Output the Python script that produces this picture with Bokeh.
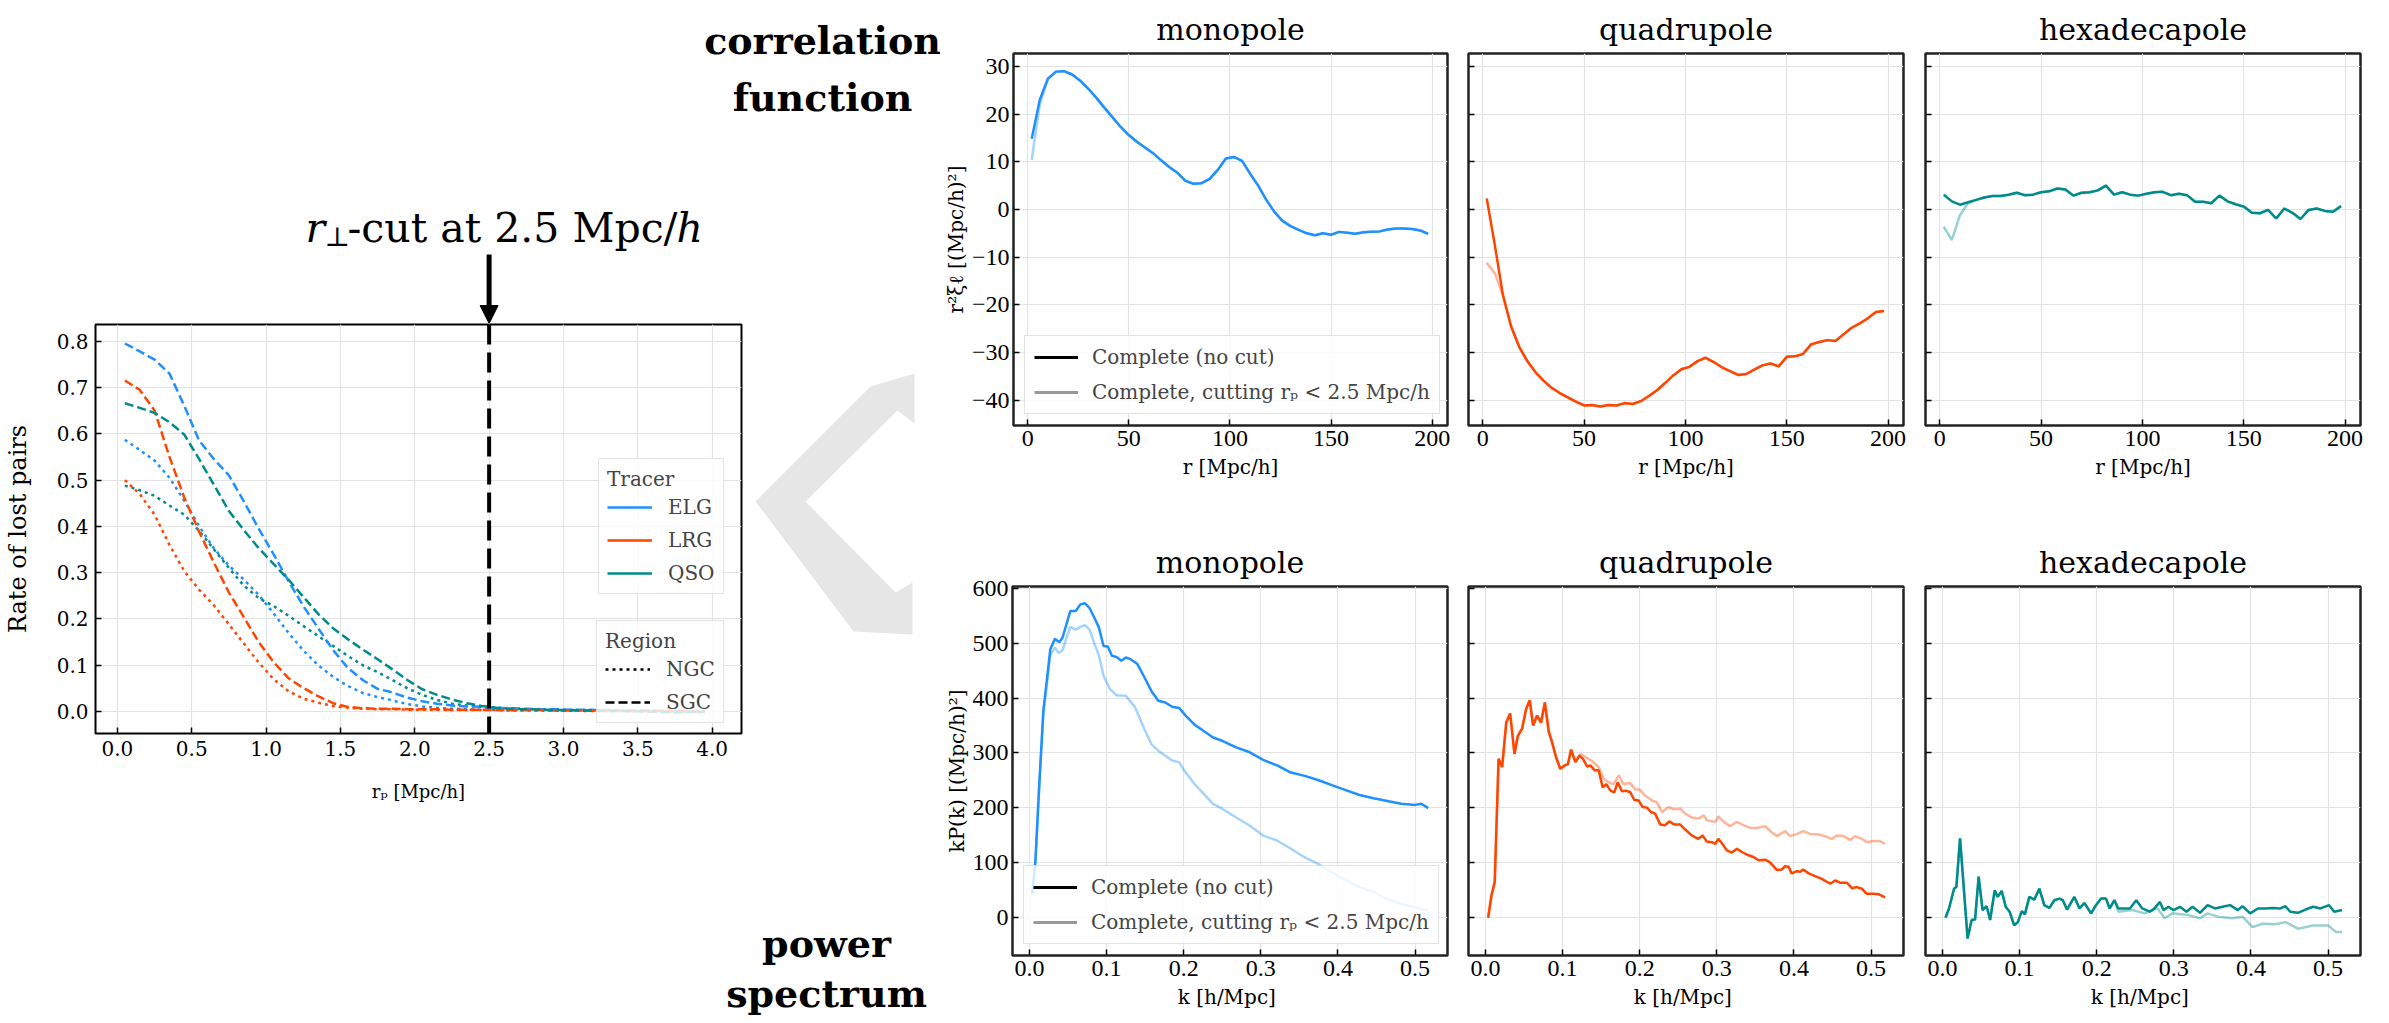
from bokeh.plotting import figure
from bokeh.models import (Range1d, Legend, LegendItem, Span, Arrow, NormalHead, Label,
                          PolyAnnotation, FixedTicker, PrintfTickFormatter)
from bokeh.layouts import row, column
from bokeh.embed import file_html
from bokeh.resources import INLINE

# ---------------- data: rate of lost pairs ----------------
rp = [0.05, 0.15, 0.25, 0.35, 0.45, 0.55, 0.65, 0.75, 0.85, 0.95,
      1.05, 1.15, 1.25, 1.35, 1.45, 1.55, 1.65, 1.75, 1.85, 1.95,
      2.05, 2.15, 2.25, 2.35, 2.45, 2.55, 2.65, 2.75, 2.85, 2.95,
      3.05, 3.15, 3.25, 3.35, 3.45, 3.55, 3.65, 3.75, 3.85, 3.95]
elg_ngc = [0.587, 0.565, 0.542, 0.505, 0.455, 0.400, 0.352, 0.315, 0.285, 0.252,
           0.212, 0.170, 0.132, 0.100, 0.075, 0.055, 0.040, 0.031, 0.024, 0.016,
           0.011, 0.008, 0.006, 0.005, 0.004, 0.004, 0.003, 0.003, 0.003, 0.002,
           0.002, 0.002, 0.002, 0.001, 0.001, 0.001, 0.001, 0.001, 0.000, 0.000]
elg_sgc = [0.795, 0.778, 0.760, 0.730, 0.660, 0.585, 0.545, 0.510, 0.454, 0.395,
           0.340, 0.282, 0.228, 0.180, 0.133, 0.094, 0.068, 0.049, 0.041, 0.030,
           0.022, 0.017, 0.013, 0.011, 0.010, 0.008, 0.007, 0.006, 0.005, 0.005,
           0.004, 0.004, 0.003, 0.003, 0.002, 0.002, 0.001, 0.000, -0.001, -0.002]
lrg_ngc = [0.500, 0.470, 0.425, 0.360, 0.303, 0.263, 0.229, 0.188, 0.147, 0.106,
           0.070, 0.044, 0.028, 0.019, 0.012, 0.008, 0.006, 0.005, 0.005, 0.004,
           0.004, 0.004, 0.003, 0.003, 0.003, 0.003, 0.002, 0.002, 0.002, 0.002,
           0.002, 0.001, 0.001, 0.001, 0.001, 0.001, 0.001, 0.001, 0.000, 0.000]
lrg_sgc = [0.715, 0.695, 0.650, 0.550, 0.462, 0.388, 0.321, 0.257, 0.204, 0.150,
           0.107, 0.072, 0.051, 0.033, 0.018, 0.010, 0.007, 0.006, 0.006, 0.005,
           0.005, 0.005, 0.004, 0.004, 0.004, 0.003, 0.003, 0.003, 0.003, 0.002,
           0.002, 0.002, 0.002, 0.002, 0.001, 0.001, 0.001, 0.001, 0.001, 0.001]
qso_ngc = [0.488, 0.478, 0.466, 0.445, 0.425, 0.390, 0.350, 0.310, 0.272, 0.245,
           0.228, 0.207, 0.185, 0.163, 0.142, 0.120, 0.100, 0.085, 0.068, 0.050,
           0.036, 0.025, 0.017, 0.013, 0.010, 0.007, 0.005, 0.004, 0.003, 0.003,
           0.002, 0.002, 0.002, 0.001, 0.001, 0.001, 0.001, 0.001, 0.000, 0.000]
qso_sgc = [0.666, 0.656, 0.645, 0.625, 0.598, 0.545, 0.489, 0.433, 0.392, 0.353,
           0.319, 0.285, 0.248, 0.211, 0.180, 0.156, 0.134, 0.113, 0.091, 0.068,
           0.048, 0.036, 0.026, 0.018, 0.012, 0.008, 0.006, 0.005, 0.004, 0.003,
           0.003, 0.002, 0.002, 0.001, 0.001, 0.000, -0.001, -0.002, -0.001, 0.000]
tracers = ["ELG", "LRG", "QSO"]
regions = ["NGC", "SGC"]
xt_left = [0.0, 0.5, 1.0, 1.5, 2.0, 2.5, 3.0, 3.5, 4.0]
yt_left = [0.0, 0.1, 0.2, 0.3, 0.4, 0.5, 0.6, 0.7, 0.8]
rp_cut = 2.5

# ---------------- data: correlation function multipoles ----------------
r_xi = [2, 6, 10, 14, 18, 22, 26, 30, 34, 38, 42, 46, 50, 54, 58, 62, 66, 70, 74, 78,
        82, 86, 90, 94, 98, 102, 106, 110, 114, 118, 122, 126, 130, 134, 138, 142, 146,
        150, 154, 158, 162, 166, 170, 174, 178, 182, 186, 190, 194, 198]
xi0 = [14.8, 23.0, 27.4, 28.9, 29.0, 28.3, 27.0, 25.3, 23.4, 21.3, 19.3, 17.3, 15.6,
       14.2, 13.0, 11.8, 10.3, 8.9, 7.7, 6.0, 5.4, 5.5, 6.4, 8.3, 10.7, 11.0, 10.2, 7.5,
       5.0, 2.0, -0.5, -2.4, -3.5, -4.3, -5.0, -5.4, -5.0, -5.3, -4.7, -4.9, -5.1, -4.8,
       -4.7, -4.6, -4.2, -4.0, -4.0, -4.1, -4.4, -5.1]
xi0_cut_head = [10.4, 22.0]
xi2 = [2.3, -7.5, -18.0, -24.5, -28.8, -31.8, -34.1, -35.9, -37.4, -38.5, -39.4, -40.3,
       -41.1, -41.0, -41.3, -41.0, -41.1, -40.6, -40.8, -40.2, -39.1, -37.9, -36.4, -34.8,
       -33.5, -33.0, -31.8, -31.1, -32.0, -33.1, -33.9, -34.7, -34.5, -33.6, -32.7, -32.3,
       -32.9, -30.9, -30.8, -30.3, -28.3, -27.8, -27.4, -27.6, -26.2, -24.8, -23.9, -22.8,
       -21.5, -21.3]
xi2_cut_head = [-11.2, -13.4]
xi4 = [3.1, 1.7, 1.0, 1.5, 2.0, 2.5, 2.8, 2.8, 3.1, 3.5, 3.0, 3.1, 3.6, 3.8, 4.4, 4.2,
       2.9, 3.5, 3.6, 4.0, 5.0, 3.1, 3.6, 3.1, 2.9, 3.3, 3.6, 3.7, 3.0, 3.3, 3.0, 1.6,
       1.6, 1.3, 2.9, 1.7, 1.1, 0.6, -0.7, -0.8, -0.1, -1.9, 0.2, -0.7, -2.0, -0.1, 0.2,
       -0.3, -0.5, 0.7]
xi4_cut_head = [-3.6, -6.4, -1.2, 1.3]
xt_xi = [0, 50, 100, 150, 200]
yt_xi = [-40, -30, -20, -10, 0, 10, 20, 30]

# ---------------- data: power spectrum multipoles ----------------
k0 = [0.0036, 0.0077, 0.0125, 0.018, 0.023, 0.027, 0.033, 0.039, 0.043, 0.048, 0.053,
      0.060, 0.066, 0.072, 0.078, 0.084, 0.090, 0.096, 0.1015, 0.107, 0.113, 0.119,
      0.125, 0.131, 0.140, 0.149, 0.158, 0.167, 0.176, 0.185, 0.194, 0.2025, 0.2144,
      0.226, 0.238, 0.25, 0.268, 0.2856, 0.303, 0.321, 0.339, 0.357, 0.375, 0.392,
      0.41, 0.428, 0.446, 0.464, 0.482, 0.5, 0.508, 0.517]
pk0 = [42.6, 103, 237, 377, 438, 489, 508, 502, 511, 535, 559, 559, 571, 573, 564, 547,
       529, 495, 494, 477, 475, 468, 474, 471, 462, 438, 413, 395, 392, 384, 382, 368,
       351, 340, 328, 322, 310, 301, 287, 277, 264, 258, 250, 241, 232, 223, 217, 212,
       207, 205, 207, 199]
k0_cut = [0.0036, 0.0077, 0.0125, 0.018, 0.023, 0.027, 0.033, 0.038, 0.043, 0.048, 0.053,
          0.060, 0.066, 0.072, 0.078, 0.084, 0.090, 0.096, 0.1045, 0.113, 0.125, 0.137,
          0.149, 0.158, 0.167, 0.185, 0.194, 0.2025, 0.214, 0.226, 0.238, 0.25, 0.268,
          0.2856, 0.303, 0.321, 0.339, 0.357, 0.375, 0.392, 0.41, 0.428, 0.446, 0.464,
          0.482, 0.5, 0.517]
pk0_cut = [40, 100, 233, 370, 430, 478, 492, 482, 488, 510, 530, 525, 530, 533, 525, 500,
           478, 441, 416, 405, 404, 383, 343, 316, 304, 286, 283, 264, 243, 225, 207, 198,
           182, 167, 149, 140, 125, 109, 97, 82, 67, 55, 46, 33, 24, 18, 12]
k2 = [0.0035, 0.0078, 0.012, 0.017, 0.0216, 0.027, 0.032, 0.0376, 0.042, 0.0475,
      0.0527, 0.0574, 0.0617, 0.067, 0.072, 0.077, 0.082, 0.0864, 0.0915, 0.097,
      0.1028, 0.107, 0.111, 0.1166, 0.1218, 0.1265, 0.1317, 0.136, 0.1416, 0.1468,
      0.152, 0.1567, 0.162, 0.167, 0.1714, 0.177, 0.182, 0.1878, 0.193, 0.1986,
      0.2038, 0.2094, 0.2146, 0.22, 0.2267, 0.233, 0.2383, 0.2448, 0.2526, 0.259,
      0.2677, 0.276, 0.2815, 0.287, 0.2936, 0.298, 0.302, 0.307, 0.313, 0.3195,
      0.326, 0.3325, 0.341, 0.3476, 0.354, 0.3627, 0.369, 0.378, 0.384, 0.3886,
      0.393, 0.397, 0.404, 0.408, 0.412, 0.419, 0.4275, 0.436, 0.447, 0.4534,
      0.46, 0.4685, 0.475, 0.4814, 0.488, 0.494, 0.503, 0.5095, 0.518]
pk2 = [-1, 40, 64, 289, 274, 356, 372, 298, 331, 344,
       380, 396, 350, 368, 355, 392, 339, 319, 292, 271,
       277, 280, 306, 283, 295, 289, 275, 277, 268, 268,
       237, 243, 231, 228, 246, 230, 231, 228, 214, 213,
       201, 200, 192, 189, 169, 168, 175, 169, 169, 160,
       149, 143, 149, 138, 137, 134, 143, 134, 122, 118,
       125, 119, 113, 110, 104, 105, 100, 86, 87, 93,
       92, 80, 84, 83, 87, 80, 75, 70, 61, 67,
       63, 63, 53, 55, 52, 43, 43, 42, 36]
k2_cut_tail = [0.123, 0.138, 0.1468, 0.153, 0.16, 0.166, 0.173, 0.179, 0.1878, 0.194,
               0.2, 0.207, 0.216, 0.222, 0.229, 0.2375, 0.244, 0.2526, 0.259, 0.2677,
               0.276, 0.283, 0.287, 0.298, 0.302, 0.309, 0.317, 0.326, 0.3346, 0.343,
               0.352, 0.3627, 0.371, 0.378, 0.3886, 0.395, 0.404, 0.412, 0.421, 0.432,
               0.44, 0.449, 0.4555, 0.464, 0.473, 0.479, 0.488, 0.494, 0.503, 0.5117, 0.518]
pk2_cut_tail = [298, 285, 274, 253, 246, 243, 259, 243, 245, 233,
                233, 222, 213, 210, 192, 201, 197, 198, 189, 182,
                180, 186, 177, 174, 184, 174, 166, 174, 168, 163,
                163, 166, 155, 148, 157, 148, 152, 157, 152, 151,
                148, 143, 149, 148, 141, 148, 143, 137, 139, 139, 134]
k4 = [0.004, 0.0085, 0.015, 0.018, 0.0228, 0.0326, 0.0378, 0.0423, 0.0469, 0.052,
      0.0573, 0.0618, 0.0677, 0.0716, 0.0768, 0.082, 0.087, 0.093, 0.0977, 0.1029,
      0.1068, 0.1126, 0.119, 0.1256, 0.132, 0.1387, 0.145, 0.1517, 0.156, 0.1615,
      0.171, 0.1777, 0.184, 0.1927, 0.199, 0.2057, 0.212, 0.2168, 0.223, 0.2279,
      0.2363, 0.243, 0.2513, 0.259, 0.2689, 0.2754, 0.282, 0.2865, 0.293, 0.2995,
      0.308, 0.3164, 0.3242, 0.334, 0.3437, 0.3535, 0.363, 0.373, 0.383, 0.389,
      0.399, 0.409, 0.4186, 0.428, 0.438, 0.4447, 0.451, 0.461, 0.4707, 0.4805,
      0.49, 0.5013, 0.508, 0.518]
pk4 = [-1, 16, 52, 55, 144, -39, -5, -4, 74, 13,
       20, -5, 49, 37, 48, 19, 10, -15, -9, 11,
       5, 37, 32, 52, 22, 17, 31, 34, 31, 14,
       37, 16, 26, 7, 22, 34, 34, 16, 31, 16,
       16, 16, 31, 16, 10, 17, 28, 13, 19, 13,
       19, 10, 19, 8, 22, 16, 19, 22, 13, 20,
       7, 16, 16, 17, 16, 20, 10, 8, 14, 19,
       16, 22, 10, 13]
k4_cut_tail = [0.228, 0.246, 0.262, 0.279, 0.288, 0.298, 0.318, 0.334, 0.3437, 0.357,
               0.376, 0.389, 0.402, 0.415, 0.432, 0.4447, 0.461, 0.4805, 0.5, 0.51, 0.518]
pk4_cut_tail = [10, 13, 7, 16, -2, 7, 4, -2, 7, 1, -2, 1, -18, -12, -13, -9, -21, -15,
                -15, -27, -27]
xt_pk = [0.0, 0.1, 0.2, 0.3, 0.4, 0.5]
yt_pk = [0, 100, 200, 300, 400, 500, 600]

# derived "cut" series (identical to the complete ones where the curves coincide)
xi0_cut = xi0_cut_head + xi0[len(xi0_cut_head):]
xi2_cut = xi2_cut_head + xi2[len(xi2_cut_head):]
xi4_cut = xi4_cut_head + xi4[len(xi4_cut_head):]
k2_cut = k2[:24] + k2_cut_tail
pk2_cut = pk2[:24] + pk2_cut_tail
k4_cut = k4[:39] + k4_cut_tail
pk4_cut = pk4[:39] + pk4_cut_tail

# ---------------- style ----------------
C_ELG, C_LRG, C_QSO = "#1e90ff", "#ff4500", "#008b8b"
SERIF = "DejaVu Serif"
TICKF = "Liberation Serif"
GRID = "#e3e3e3"
NAN = float("nan")


def base_style(p, outline_color, outline_width):
    p.outline_line_color = outline_color
    p.outline_line_width = outline_width
    p.background_fill_color = "white"
    p.border_fill_color = "white"
    for ax in (p.xaxis, p.yaxis):
        ax.axis_line_color = None
        ax.major_tick_in = 6
        ax.major_tick_out = 0
        ax.minor_tick_line_color = None
        ax.major_tick_line_color = "black"
        ax.major_tick_line_width = 1.5
        ax.major_label_text_color = "black"
        ax.axis_label_text_font_style = "normal"
        ax.axis_label_text_color = "black"
    p.xgrid.grid_line_color = GRID
    p.ygrid.grid_line_color = GRID
    p.xgrid.grid_line_width = 1.2
    p.ygrid.grid_line_width = 1.2


def deco(w, h, x0, y0, bt=0, bb=0):
    """Axis-less figure whose frame coordinates are page pixels (for decorations)."""
    d = figure(width=w, height=h, x_range=Range1d(x0, x0 + w),
               y_range=Range1d(y0 + h - bb, y0 + bt),
               x_axis_type=None, y_axis_type=None, min_border=0,
               min_border_top=bt, min_border_bottom=bb,
               output_backend="svg", toolbar_location=None)
    d.outline_line_color = None
    d.background_fill_color = "white"
    d.border_fill_color = "white"
    return d


def add_text(fig, txt, x, y, size, style="normal", align="left"):
    # y is the wanted baseline (page px); the renderer draws ~0.39 em lower
    fs = float(size.replace("px", ""))
    fig.add_layout(Label(x=x, y=y - 0.39 * fs, text=txt, text_font=SERIF, text_font_size=size,
                         text_font_style=style, text_align=align,
                         text_baseline="alphabetic", text_color="black"))


# ================= left panel =================
XR = (-0.1475, 4.1975)
YR = (-0.0475, 0.836)
LW = 940              # width of the left block
PW = 743              # width of the left panel figure
FX0, FX1 = 95, 741    # frame left/right (page px)
FY0, FY1 = 324, 733   # frame top/bottom (page px)
TOP_A = 323           # height of the band above the left panel
PB = 815              # bottom of the left panel figure
H = 1023

pl = figure(width=PW, height=PB - TOP_A, x_range=Range1d(*XR), y_range=Range1d(*YR),
            min_border_left=FX0, min_border_right=PW - FX1,
            min_border_top=FY0 - TOP_A, min_border_bottom=PB - FY1,
            output_backend="svg", toolbar_location=None)
base_style(pl, "black", 2)
pl.xaxis.ticker = FixedTicker(ticks=xt_left)
pl.yaxis.ticker = FixedTicker(ticks=yt_left)
pl.xaxis.formatter = PrintfTickFormatter(format="%.1f")
pl.yaxis.formatter = PrintfTickFormatter(format="%.1f")
for ax in (pl.xaxis, pl.yaxis):
    ax.major_label_text_font = SERIF
    ax.major_label_text_font_size = "20px"
    ax.major_label_standoff = 7
    ax.axis_label_text_font = SERIF
pl.xaxis.axis_label = "rₚ [Mpc/h]"
pl.xaxis.axis_label_text_font_size = "18px"
pl.xaxis.axis_label_standoff = 22
pl.yaxis.axis_label = "Rate of lost pairs"
pl.yaxis.axis_label_text_font_size = "24px"
pl.yaxis.axis_label_standoff = 22

DOT, DASH = "3 4", "9 4"
for vals, col in ((elg_ngc, C_ELG), (lrg_ngc, C_LRG), (qso_ngc, C_QSO)):
    pl.line(rp, vals, line_color=col, line_width=2.5, line_dash=DOT)
for vals, col in ((elg_sgc, C_ELG), (lrg_sgc, C_LRG), (qso_sgc, C_QSO)):
    pl.line(rp, vals, line_color=col, line_width=2.5, line_dash=DASH)

pl.add_layout(Span(location=rp_cut, dimension="height", line_color="black",
                   line_width=4, line_dash="20 8"))

# legend proxies (no visible data)
tr_r = [pl.line([NAN], [NAN], line_color=c, line_width=2.5) for c in (C_ELG, C_LRG, C_QSO)]
rg_r = [pl.line([NAN], [NAN], line_color="black", line_width=2.5, line_dash=d) for d in (DOT, DASH)]


def style_legend(lg):
    lg.label_text_font = SERIF
    lg.label_text_font_size = "20px"
    lg.title_text_font = SERIF
    lg.title_text_font_size = "20px"
    lg.title_text_font_style = "normal"
    lg.title_text_align = "center"
    lg.glyph_width = 45
    lg.glyph_height = 20
    lg.label_height = 20
    lg.label_standoff = 16
    lg.padding = 8
    lg.spacing = 9
    lg.title_standoff = 4
    lg.margin = 0
    lg.border_line_color = "#c8c8c8"
    lg.border_line_width = 1.5
    lg.background_fill_alpha = 0.8


lg1 = Legend(items=[LegendItem(label=t, renderers=[r]) for t, r in zip(tracers, tr_r)],
             title="Tracer", location=(503, 139))
lg2 = Legend(items=[LegendItem(label=t, renderers=[r]) for t, r in zip(regions, rg_r)],
             title="Region", location=(501, 10))
for lg in (lg1, lg2):
    style_legend(lg)
    pl.add_layout(lg)


def data2px(x):
    return FX0 + (x - XR[0]) * (FX1 - FX0) / (XR[1] - XR[0])


# ---- band above the left panel: headings, r_perp annotation and arrow ----
bandA = deco(LW, TOP_A, 0, 0)
x_cut_px = data2px(rp_cut)
bandA.add_layout(Arrow(end=NormalHead(size=18, fill_color="black", line_color="black"),
                       x_start=x_cut_px, y_start=254, x_end=x_cut_px, y_end=TOP_A,
                       line_width=5, line_color="black"))
add_text(bandA, "r", 305, 243, "41px", "italic")
add_text(bandA, "⊥", 324, 247, "27px")
add_text(bandA, "-cut at 2.5 Mpc/", 347, 243, "41px")
add_text(bandA, "h", 676, 243, "41px", "italic")
add_text(bandA, "correlation", 822, 55, "38px", "bold", "center")
add_text(bandA, "function", 822, 112, "38px", "bold", "center")

# ---- block right of the left panel: grey chevron ----
figB = deco(LW - PW, PB - TOP_A, PW, TOP_A, bt=FY0 - TOP_A, bb=PB - FY1)
chev = [(755, 501), (870, 386), (914, 373), (914, 423), (897, 410), (805, 501),
        (895, 592), (912, 582), (912, 634), (853, 631)]
figB.add_layout(PolyAnnotation(xs=[a for a, b in chev], ys=[b for a, b in chev],
                               fill_color="#e6e6e6", fill_alpha=1.0, line_color=None))

# ---- band below: heading ----
bandC = deco(LW, H - PB, 0, PB)
add_text(bandC, "power", 826, 958, "38px", "bold", "center")
add_text(bandC, "spectrum", 826, 1008, "38px", "bold", "center")


# ================= right panels =================
def panel(w, h, bl, br, bt, bb, xr, yr, title, xticks, yticks, xfmt, show_y, xlabel, ylabel):
    p = figure(width=w, height=h, x_range=Range1d(*xr), y_range=Range1d(*yr),
               min_border_left=bl, min_border_right=br, min_border_top=bt, min_border_bottom=bb,
               output_backend="svg", toolbar_location=None, title=title)
    base_style(p, "#222222", 2.5)
    p.title.align = "center"
    p.title.text_font = SERIF
    p.title.text_font_size = "30px"
    p.title.text_font_style = "normal"
    p.title.text_color = "black"
    p.title.standoff = 14
    p.xaxis.ticker = FixedTicker(ticks=xticks)
    p.yaxis.ticker = FixedTicker(ticks=yticks)
    if xfmt:
        p.xaxis.formatter = PrintfTickFormatter(format=xfmt)
    if show_y:
        p.yaxis.major_label_overrides = {t: str(t).replace("-", "\u2212") for t in yticks}
    else:
        p.yaxis.major_label_overrides = {t: "" for t in yticks}
    for ax in (p.xaxis, p.yaxis):
        ax.major_label_text_font = TICKF
        ax.major_label_text_font_size = "24px"
        ax.major_label_standoff = 5
        ax.axis_label_text_font = SERIF
        ax.axis_label_text_font_size = "20px"
    p.yaxis.major_label_standoff = 4
    p.xaxis.axis_label = xlabel
    p.xaxis.axis_label_standoff = 6
    if ylabel:
        p.yaxis.axis_label = ylabel
        p.yaxis.axis_label_standoff = 1
    return p


def add_cut_legend(p):
    a = p.line([NAN], [NAN], line_color="black", line_width=3)
    b = p.line([NAN], [NAN], line_color="black", line_alpha=0.4, line_width=3)
    lg = Legend(items=[LegendItem(label="Complete (no cut)", renderers=[a]),
                       LegendItem(label="Complete, cutting rₚ < 2.5 Mpc/h", renderers=[b])],
                location="bottom_left")
    lg.label_text_font = SERIF
    lg.label_text_font_size = "20px"
    lg.glyph_width = 44
    lg.glyph_height = 20
    lg.label_height = 20
    lg.label_standoff = 14
    lg.padding = 9
    lg.spacing = 11
    lg.margin = 11
    lg.border_line_color = "#c8c8c8"
    lg.border_line_width = 1.5
    lg.background_fill_alpha = 0.8
    p.add_layout(lg)


XR_XI, YR_XI = (-7.0, 207.6), (-45.3, 32.7)
XR_PK, YR_PK = (-0.022, 0.542), (-69.9, 603.6)
TOP_H, BOT_H = 505, 518
cols = [(517, 72, 10), (457, 11, 11), (475, 11, 29)]
names = ["monopole", "quadrupole", "hexadecapole"]
xi_sets = [(xi0, xi0_cut, C_ELG), (xi2, xi2_cut, C_LRG), (xi4, xi4_cut, C_QSO)]
pk_sets = [(k0, pk0, k0_cut, pk0_cut, C_ELG), (k2, pk2, k2_cut, pk2_cut, C_LRG),
           (k4, pk4, k4_cut, pk4_cut, C_QSO)]

top_figs, bot_figs = [], []
for i, ((w, bl, br), name) in enumerate(zip(cols, names)):
    main, cut, col = xi_sets[i]
    p = panel(w, TOP_H, bl, br, 53, 80, XR_XI, YR_XI, name, xt_xi, yt_xi, None, i == 0,
              "r [Mpc/h]", "r²ξℓ [(Mpc/h)²]" if i == 0 else None)
    p.line(r_xi, cut, line_color=col, line_alpha=0.4, line_width=2.5)
    p.line(r_xi, main, line_color=col, line_width=2.5)
    if i == 0:
        add_cut_legend(p)
    top_figs.append(p)

    km, pm, kc, pc, col = pk_sets[i]
    q = panel(w, BOT_H, bl, br, 81, 68, XR_PK, YR_PK, name, xt_pk, yt_pk, "%.1f", i == 0,
              "k  [h/Mpc]", "kP(k) [(Mpc/h)²]" if i == 0 else None)
    q.line(kc, pc, line_color=col, line_alpha=0.4, line_width=2.5)
    q.line(km, pm, line_color=col, line_width=2.5)
    if i == 0:
        add_cut_legend(q)
    bot_figs.append(q)

left_block = column(bandA, row(pl, figB), bandC)
layout = row(left_block, column(row(*top_figs), row(*bot_figs)))
open("out.html", "w").write(file_html(layout, INLINE))
